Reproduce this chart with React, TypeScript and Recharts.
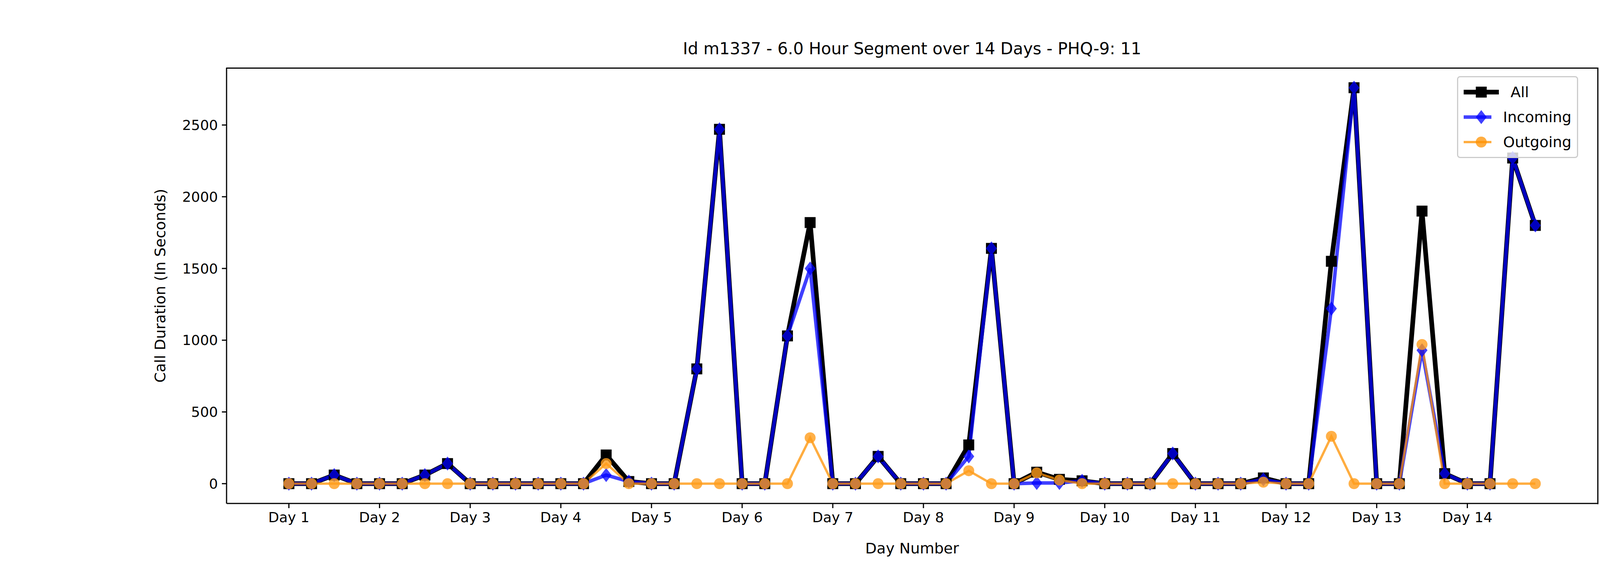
import React from 'react';
import { LineChart, Line, XAxis, YAxis } from 'recharts';

// 14 days x 4 six-hour segments
const segments = Array.from({ length: 56 }, (_, i) => i);
const allCalls = [
  0, 0, 60, 0, 0, 0, 60, 140, 0, 0, 0, 0, 0, 0, 200, 15,
  0, 0, 800, 2470, 0, 0, 1030, 1820, 0, 0, 190, 0, 0, 0, 270, 1640,
  0, 80, 30, 20, 0, 0, 0, 210, 0, 0, 0, 40, 0, 0, 1550, 2760,
  0, 0, 1900, 70, 0, 0, 2270, 1800,
];
const incomingCalls = [
  0, 0, 60, 0, 0, 0, 60, 140, 0, 0, 0, 0, 0, 0, 60, 15,
  0, 0, 800, 2470, 0, 0, 1030, 1500, 0, 0, 190, 0, 0, 0, 190, 1640,
  0, 5, 5, 20, 0, 0, 0, 210, 0, 0, 0, 30, 0, 0, 1220, 2760,
  0, 0, 930, 70, 0, 0, 2270, 1800,
];
const outgoingCalls = [
  0, 0, 0, 0, 0, 0, 0, 0, 0, 0, 0, 0, 0, 0, 140, 0,
  0, 0, 0, 0, 0, 0, 0, 320, 0, 0, 0, 0, 0, 0, 90, 0,
  0, 75, 25, 0, 0, 0, 0, 0, 0, 0, 0, 10, 0, 0, 330, 0,
  0, 0, 970, 0, 0, 0, 0, 0,
];
const dayTicks = Array.from({ length: 14 }, (_, i) => i * 4);
const yTicks = [0, 500, 1000, 1500, 2000, 2500];

const data = segments.map((s, i) => ({
  seg: s,
  all: allCalls[i],
  incoming: incomingCalls[i],
  outgoing: outgoingCalls[i],
}));

const font = 'DejaVu Sans';

const SquareDot = (p: any) => (
  <rect key={p.index} x={p.cx - 14} y={p.cy - 14} width={28} height={28} fill="#000" />
);
const DiamondDot = (p: any) => (
  <polygon
    key={p.index}
    points={`${p.cx},${p.cy - 18} ${p.cx + 14},${p.cy} ${p.cx},${p.cy + 18} ${p.cx - 14},${p.cy}`}
    fill="#0000ff"
    fillOpacity={0.75}
  />
);
const CircleDot = (p: any) => (
  <circle key={p.index} cx={p.cx} cy={p.cy} r={14} fill="#ff9c1a" fillOpacity={0.8} />
);

const LegendBox = () => {
  const rows = [
    { name: 'All', color: '#000', w: 12, marker: 'sq' },
    { name: 'Incoming', color: 'rgba(0,0,255,0.75)', w: 9, marker: 'dm' },
    { name: 'Outgoing', color: 'rgba(255,145,0,0.75)', w: 6, marker: 'ci' },
  ];
  return (
    <div
      style={{
        position: 'absolute',
        left: 3730,
        top: 195,
        border: '3px solid #ccc',
        borderRadius: 8,
        background: 'rgba(255,255,255,0.8)',
        padding: '6px 14px',
        fontFamily: font,
        fontSize: 38,
        width: 310,
        boxSizing: 'border-box',
      }}
    >
      {rows.map((r) => (
        <div key={r.name} style={{ display: 'flex', alignItems: 'center', height: 64 }}>
          <svg width={90} height={40} style={{ marginRight: 30 }}>
            <line x1={0} y1={20} x2={90} y2={20} stroke={r.color} strokeWidth={r.w} />
            {r.marker === 'sq' && <rect x={31} y={6} width={28} height={28} fill="#000" />}
            {r.marker === 'dm' && <polygon points="45,2 59,20 45,38 31,20" fill={r.color} />}
            {r.marker === 'ci' && <circle cx={45} cy={20} r={14} fill={r.color} />}
          </svg>
          <span>{r.name}</span>
        </div>
      ))}
    </div>
  );
};

export default function App() {
  return (
    <div style={{ position: 'absolute', left: 0, top: 0, width: 4500, height: 1440, background: '#fff' }}>
      <div
        style={{
          position: 'absolute',
          top: 100,
          width: 4500 - 170,
          left: 0,
          paddingLeft: 170,
          textAlign: 'center',
          fontFamily: font,
          fontSize: 42,
        }}
      >
        Id m1337 - 6.0 Hour Segment over 14 Days - PHQ-9: 11
      </div>
      <LineChart
        width={4500}
        height={1440}
        data={data}
        margin={{ top: 174, right: 410, bottom: 0, left: 0 }}
      >
        <XAxis
          dataKey="seg"
          type="number"
          domain={[-2.75, 57.75]}
          ticks={dayTicks}
          tickFormatter={(v: number) => `Day ${v / 4 + 1}`}
          tick={{ fontFamily: font, fontSize: 36, fill: '#000' }}
          tickSize={12}
          tickMargin={10}
          stroke="#000"
          strokeWidth={3}
          height={150}
          label={{ value: 'Day Number', position: 'insideBottom', offset: 22, fontFamily: font, fontSize: 38, fill: '#000' }}
        />
        <YAxis
          type="number"
          domain={[-138, 2898]}
          ticks={yTicks}
          tick={{ fontFamily: font, fontSize: 36, fill: '#000' }}
          tickSize={12}
          tickMargin={10}
          stroke="#000"
          strokeWidth={3}
          width={580}
          allowDataOverflow
          label={{
            value: 'Call Duration (In Seconds)',
            angle: -90,
            position: 'insideRight',
            offset: 170,
            style: { textAnchor: 'middle' },
            fontFamily: font,
            fontSize: 38,
            fill: '#000',
          }}
        />
        <Line
          dataKey="all"
          stroke="#000"
          strokeWidth={12}
          dot={SquareDot}
          activeDot={false}
          isAnimationActive={false}
        />
        <Line
          dataKey="incoming"
          stroke="#0000ff"
          strokeOpacity={0.75}
          strokeWidth={9}
          dot={DiamondDot}
          activeDot={false}
          isAnimationActive={false}
        />
        <Line
          dataKey="outgoing"
          stroke="#ff9100"
          strokeOpacity={0.75}
          strokeWidth={6}
          dot={CircleDot}
          activeDot={false}
          isAnimationActive={false}
        />
      </LineChart>
      <div
        style={{
          position: 'absolute',
          left: 579,
          top: 173,
          width: 3510,
          height: 1116,
          borderTop: '3px solid #000',
          borderRight: '3px solid #000',
          pointerEvents: 'none',
        }}
      />
      <LegendBox />
    </div>
  );
}
